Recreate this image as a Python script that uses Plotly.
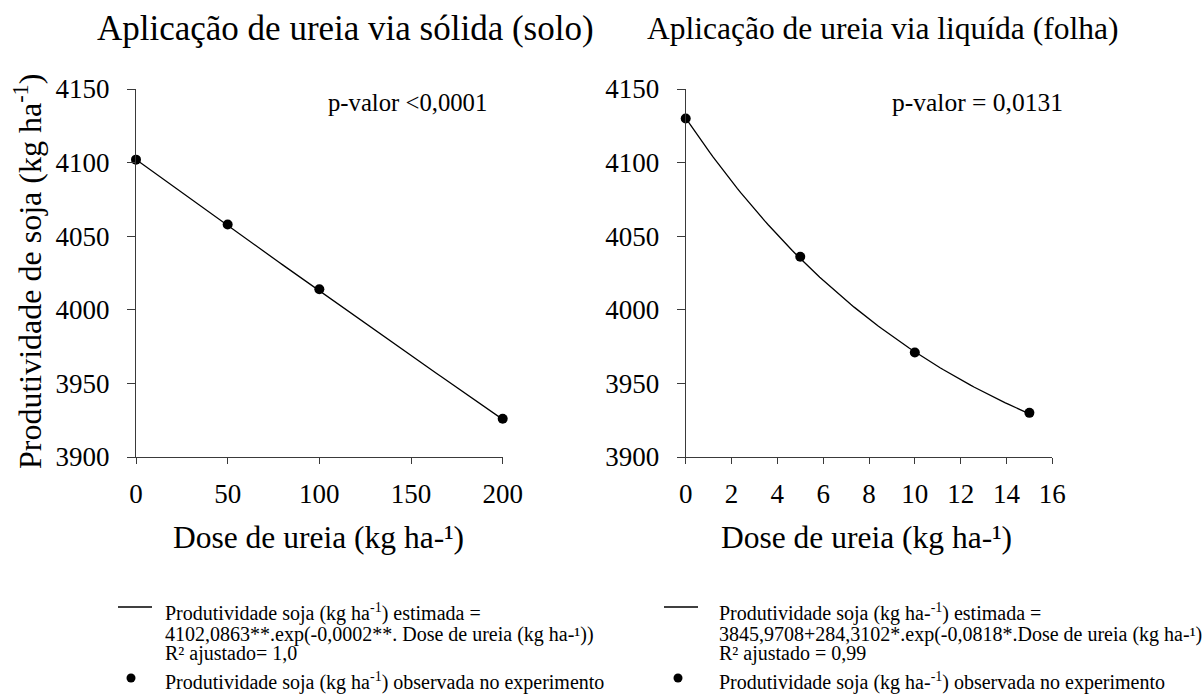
import numpy as np
import plotly.graph_objects as go

W, H = 1202, 694
FONT = "Liberation Serif"
INK = "#000000"
AXIS = "#3a3a3a"

# Observed yields (kg/ha) per urea dose (kg/ha)
dose_solo = [0, 50, 100, 200]
prod_solo = [4102, 4058, 4014, 3926]
dose_folha = [0, 5, 10, 15]
prod_folha = [4130, 4036, 3971, 3930]

# Fitted model coefficients
solo_a, solo_k = 4102.0863, 0.00022
folha_c, folha_a, folha_k = 3845.9708, 284.3102, 0.0818

y_ticks = [3900, 3950, 4000, 4050, 4100, 4150]
x_ticks_solo = [0, 50, 100, 150, 200]
x_ticks_folha = [0, 2, 4, 6, 8, 10, 12, 14, 16]


def px(x):
    return x / W


def py(y):
    return 1 - y / H


xs = np.linspace(0, 200, 101)
fit_solo = solo_a * np.exp(-solo_k * xs)
xf = np.linspace(0, 15, 101)
fit_folha = folha_c + folha_a * np.exp(-folha_k * xf)

fig = go.Figure()
fig.add_trace(go.Scatter(x=xs, y=fit_solo, mode="lines", line=dict(color=INK, width=1.3),
                         xaxis="x", yaxis="y", cliponaxis=False, showlegend=False))
fig.add_trace(go.Scatter(x=dose_solo, y=prod_solo, mode="markers",
                         marker=dict(color=INK, size=10), xaxis="x", yaxis="y",
                         cliponaxis=False, showlegend=False))
fig.add_trace(go.Scatter(x=xf, y=fit_folha, mode="lines", line=dict(color=INK, width=1.3),
                         xaxis="x2", yaxis="y2", cliponaxis=False, showlegend=False))
fig.add_trace(go.Scatter(x=dose_folha, y=prod_folha, mode="markers",
                         marker=dict(color=INK, size=10), xaxis="x2", yaxis="y2",
                         cliponaxis=False, showlegend=False))

tickfont = dict(family=FONT, size=27, color=INK)
common_x = dict(showgrid=False, zeroline=False, showline=True, linecolor=AXIS, linewidth=1.3,
                ticks="outside", ticklen=6, tickwidth=1.3, tickcolor=AXIS, tickfont=tickfont,
                ticklabelstandoff=6, automargin=False)
common_y = dict(showgrid=False, zeroline=False, showline=True, linecolor=AXIS, linewidth=1.3,
                ticks="outside", ticklen=8, tickwidth=1.3, tickcolor=AXIS, tickfont=tickfont,
                range=[3900, 4150], tickvals=y_ticks, ticklabelstandoff=12, automargin=False)
ydom = [py(457), py(89)]

fig.update_layout(
    width=W, height=H, margin=dict(l=0, r=0, t=0, b=0, autoexpand=False),
    paper_bgcolor="white", plot_bgcolor="white", showlegend=False,
    font=dict(family=FONT, color=INK),
    xaxis=dict(domain=[px(136), px(502.7)], range=[0, 200], tickvals=x_ticks_solo,
               anchor="y", **common_x),
    yaxis=dict(domain=ydom, anchor="x", **common_y),
    xaxis2=dict(domain=[px(685.7), px(1052.3)], range=[0, 16], tickvals=x_ticks_folha,
                anchor="y2", **common_x),
    yaxis2=dict(domain=ydom, anchor="x2", **common_y),
)


def note(text, x, y, size, xanchor="center", angle=0):
    fig.add_annotation(text=text, x=px(x), y=py(y), xref="paper", yref="paper",
                       xanchor=xanchor, yanchor="middle", showarrow=False, textangle=angle,
                       font=dict(family=FONT, size=size, color=INK))


# Panel titles
note("Aplicação de ureia via sólida (solo)", 95, 28, 35, xanchor="left")
note("Aplicação de ureia via liquída (folha)", 882.5, 29, 31.5)

# Axis titles
note("Dose de ureia (kg ha-¹)", 318, 537, 31.5)
note("Dose de ureia (kg ha-¹)", 866.5, 537, 31.5)
note("Produtividade de soja (kg ha<sup>-1</sup>)", 28, 272, 32, angle=-90)

# Significance
note("p-valor <0,0001", 407, 102, 24.7)
note("p-valor = 0,0131", 977.5, 102, 25.5)

# Custom legends under each panel
legends = [
    (118, 131, 163, [
        "Produtividade soja (kg ha<sup>-1</sup>) estimada =",
        "4102,0863**.exp(-0,0002**. Dose de ureia (kg ha-¹))",
        "R² ajustado= 1,0",
        "Produtividade soja (kg ha<sup>-1</sup>) observada no experimento",
    ]),
    (664, 678, 717, [
        "Produtividade soja (kg ha-<sup>-1</sup>) estimada =",
        "3845,9708+284,3102*.exp(-0,0818*.Dose de ureia (kg ha-¹)",
        "R² ajustado = 0,99",
        "Produtividade soja (kg ha-<sup>-1</sup>) observada no experimento",
    ]),
]
line_y = [612, 634.5, 653, 681]
for x_line, x_dot, x_text, lines in legends:
    fig.add_shape(type="line", xref="paper", yref="paper", x0=px(x_line), x1=px(x_line + 34),
                  y0=py(607), y1=py(607), line=dict(color=INK, width=1.3))
    fig.add_shape(type="circle", xref="paper", yref="paper", x0=px(x_dot - 4.5),
                  x1=px(x_dot + 4.5), y0=py(682.5), y1=py(673.5), fillcolor=INK,
                  line=dict(color=INK, width=0))
    for txt, yy in zip(lines, line_y):
        note(txt, x_text, yy, 20, xanchor="left")

fig.write_html("out.html")
